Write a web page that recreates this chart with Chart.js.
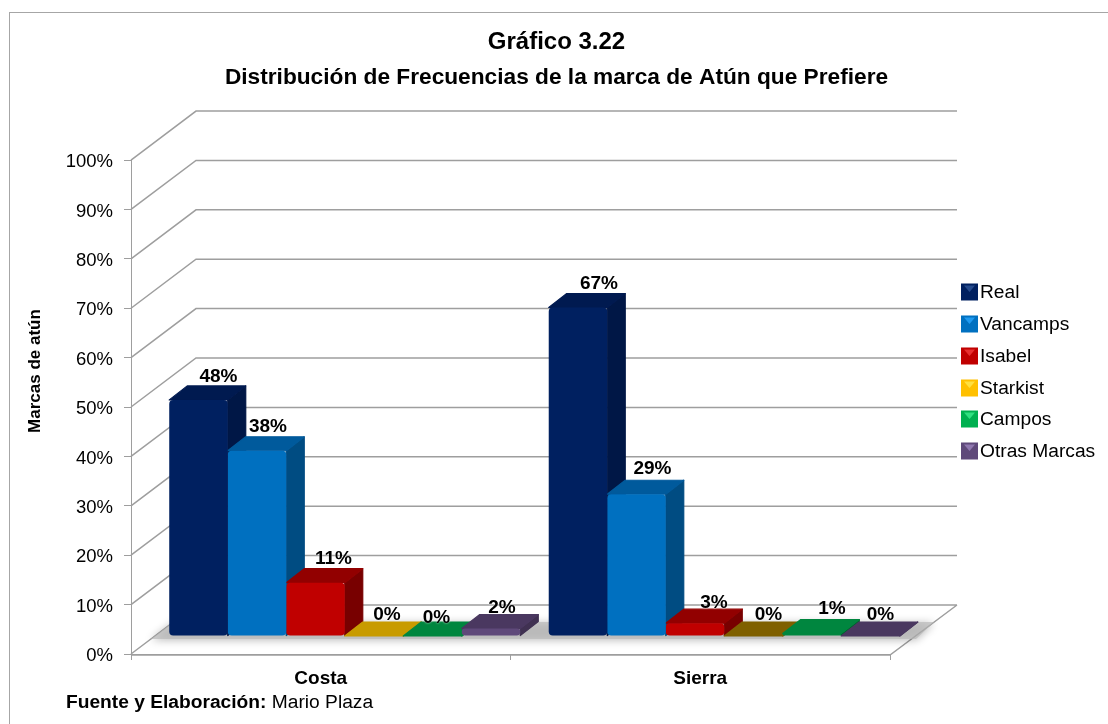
<!DOCTYPE html>
<html><head><meta charset="utf-8">
<style>html,body{margin:0;padding:0;background:#fff}canvas{display:block}</style>
<script src="https://cdn.jsdelivr.net/npm/chart.js@4"></script>
</head><body><div style="width:1108px;height:724px"><canvas id="c"></canvas></div>
<script>
const categories = ['Costa','Sierra'];
const seriesNames = ['Real','Vancamps','Isabel','Starkist','Campos','Otras Marcas'];
const real = [47.8, 66.5];
const vancamps = [37.5, 28.7];
const isabel = [10.8, 2.6];
const starkist = [0, 0];
const campos = [0, 0.5];
const otras = [1.5, 0];
const yTicks = [0,10,20,30,40,50,60,70,80,90,100];

const FONT = '"Liberation Sans", Arial, sans-serif';
const front = ['#002060','#0070C0','#C00000','#C89B00','#00863F','#5F497A'];
const sideC = ['#001746','#004C82','#780000','#8A6C00','#005F2C','#403152'];
const topC  = ['#001A50','#005A9C','#920000','#C89B00','#00863F','#4A3860'];
const topC2 = ['#001A50','#005A9C','#920000','#7F6000','#00863F','#4A3860'];
const legendC = ['#002060','#0070C0','#C00000','#FFC000','#00B050','#5F497A'];
const legendL = ['#254A8C','#1F9AF0','#E83030','#FFE040','#30E080','#9078B0'];
const nudgeX = [[2,-7,0,-5,-14,-7],[3,-2,1,-3,2,-8]];
const nudgeY = [[0,0,0,2,5,3],[0,-2,3,2,-1,2]];
const arrays = [real,vancamps,isabel,starkist,campos,otras];

const BX=24, BY=-18, DX=18, DY=-14, WX=65, WY=-49;

function face(ctx,color,pts){
  ctx.fillStyle=color;ctx.strokeStyle=color;ctx.lineWidth=1.2;ctx.lineJoin='round';
  ctx.beginPath();pts.forEach((p,i)=>i?ctx.lineTo(p[0],p[1]):ctx.moveTo(p[0],p[1]));ctx.closePath();ctx.fill();ctx.stroke();
}

const walls = {
  id:'walls',
  beforeDatasetsDraw(chart){
    const {ctx,scales:{x,y}}=chart;
    const L=x.left,R=x.right,B=y.bottom;
    ctx.save();
    ctx.strokeStyle='#A6A6A6';ctx.lineWidth=1;
    ctx.strokeRect(9.5,12.5,1120,740);
    ctx.strokeStyle='#9E9E9E';ctx.lineWidth=1.5;
    ctx.beginPath();
    yTicks.forEach(v=>{
      const p=y.getPixelForValue(v);
      ctx.moveTo(L,p);ctx.lineTo(L+WX,p+WY);ctx.lineTo(R+WX+2,p+WY);
    });
    ctx.moveTo(L,B+1);ctx.lineTo(R,B+1);ctx.lineTo(R+WX+2,B+WY);
    ctx.stroke();
    ctx.shadowColor='rgba(0,0,0,.4)';ctx.shadowBlur=9;ctx.shadowOffsetY=1;
    ctx.fillStyle='rgba(185,185,185,.7)';
    ctx.beginPath();
    ctx.moveTo(L+BX-4,B+BY+3);ctx.lineTo(R+BX+2,B+BY+3);
    ctx.lineTo(R+BX+2+DX,B+BY+DY);ctx.lineTo(L+BX+DX,B+BY+DY);ctx.closePath();ctx.fill();
    ctx.restore();
    ctx.save();ctx.translate(BX,BY);
    for(let c=0;c<categories.length;c++){
      for(let d=0;d<arrays.length;d++){
        const b=chart.getDatasetMeta(d).data[c];
        const l=b.x-b.width/2,r=b.x+b.width/2,t=b.y,bt=b.base;
        face(ctx,sideC[d],[[r,t],[r+DX,t+DY],[r+DX,bt+DY],[r,bt]]);
        face(ctx,(c===1?topC2:topC)[d],[[l,t],[l+DX,t+DY],[r+DX,t+DY],[r,t]]);
      }
    }
    ctx.restore();
    ctx.save();ctx.translate(BX,BY);
  },
  afterDatasetsDraw(chart){
    const {ctx}=chart;
    ctx.restore();
    ctx.save();
    ctx.font='bold 19px '+FONT;ctx.fillStyle='#000';ctx.textAlign='center';ctx.textBaseline='middle';
    ctx.shadowColor='rgba(255,255,255,.9)';ctx.shadowBlur=2;
    for(let c=0;c<categories.length;c++){
      for(let d=0;d<arrays.length;d++){
        const b=chart.getDatasetMeta(d).data[c];
        ctx.fillText(Math.round(arrays[d][c])+'%',b.x+BX+DX+nudgeX[c][d],b.y+BY+DY-9.5+nudgeY[c][d]);
      }
    }
    ctx.restore();
  },
  afterDraw(chart){
    const {ctx}=chart;
    ctx.save();
    const lx=961,sz=17,ly=[292,324,356,388,419,451];
    ctx.textBaseline='middle';ctx.textAlign='left';
    seriesNames.forEach((n,i)=>{
      const y=ly[i]-sz/2;
      ctx.fillStyle=legendC[i];ctx.fillRect(lx,y,sz,sz);
      ctx.fillStyle=legendL[i];
      ctx.beginPath();ctx.moveTo(lx+3,y+2);ctx.lineTo(lx+sz-3,y+2);ctx.lineTo(lx+sz/2,y+sz/2);ctx.closePath();ctx.fill();
      ctx.fillStyle='#000';ctx.font='19.2px '+FONT;
      ctx.fillText(n,980,ly[i]+1);
    });
    ctx.save();ctx.translate(35,371);ctx.rotate(-Math.PI/2);ctx.textAlign='center';
    ctx.font='bold 17px '+FONT;ctx.fillText('Marcas de atún',0,0);ctx.restore();
    ctx.textAlign='left';ctx.font='bold 19.2px '+FONT;
    const s='Fuente y Elaboración:';ctx.fillText(s,66,703);
    const w=ctx.measureText(s).width;ctx.font='19.2px '+FONT;ctx.fillText(' Mario Plaza',66+w,703);
    ctx.restore();
  }
};

new Chart(document.getElementById('c'),{
  type:'bar',
  data:{labels:categories,datasets:seriesNames.map((n,i)=>({
    label:n,data:arrays[i],backgroundColor:front[i],yAxisID:'y',
    borderWidth:0,borderRadius:4,borderSkipped:false,clip:false,
    categoryPercentage:.925,barPercentage:1,order:i
  }))},
  options:{
    responsive:true,maintainAspectRatio:false,animation:false,events:[],
    layout:{padding:{left:5}},
    plugins:{
      legend:{display:false},tooltip:{enabled:false},
      title:{display:true,text:'Gráfico 3.22',color:'#000',font:{family:FONT,size:24,weight:'bold'},padding:{top:28,bottom:7}},
      subtitle:{display:true,text:'Distribución de Frecuencias de la marca de Atún que Prefiere',color:'#000',font:{family:FONT,size:22.7,weight:'bold'},padding:{top:0,bottom:69}}
    },
    scales:{
      x:{grid:{color:'#9E9E9E',drawOnChartArea:false,drawTicks:true,tickLength:6,offset:true},border:{color:'#9E9E9E'},
        ticks:{color:'#000',font:{family:FONT,size:19,weight:'bold'},padding:7,maxRotation:0},
        afterFit(s){s.height=70}},
      y:{min:0,max:100,afterBuildTicks(s){s.ticks=yTicks.map(v=>({value:v}))},
        grid:{color:'#9E9E9E',drawOnChartArea:false,tickLength:7},border:{color:'#9E9E9E'},
        ticks:{color:'#000',font:{family:FONT,size:18.5},padding:11,labelOffset:2,callback:v=>v+'%'},
        afterFit(s){s.width=126}},
      spacer:{position:'right',min:0,max:1,grid:{display:false},border:{display:false},ticks:{display:false},
        afterFit(s){s.width=218}}
    }
  },
  plugins:[walls]
});
</script></body></html>
